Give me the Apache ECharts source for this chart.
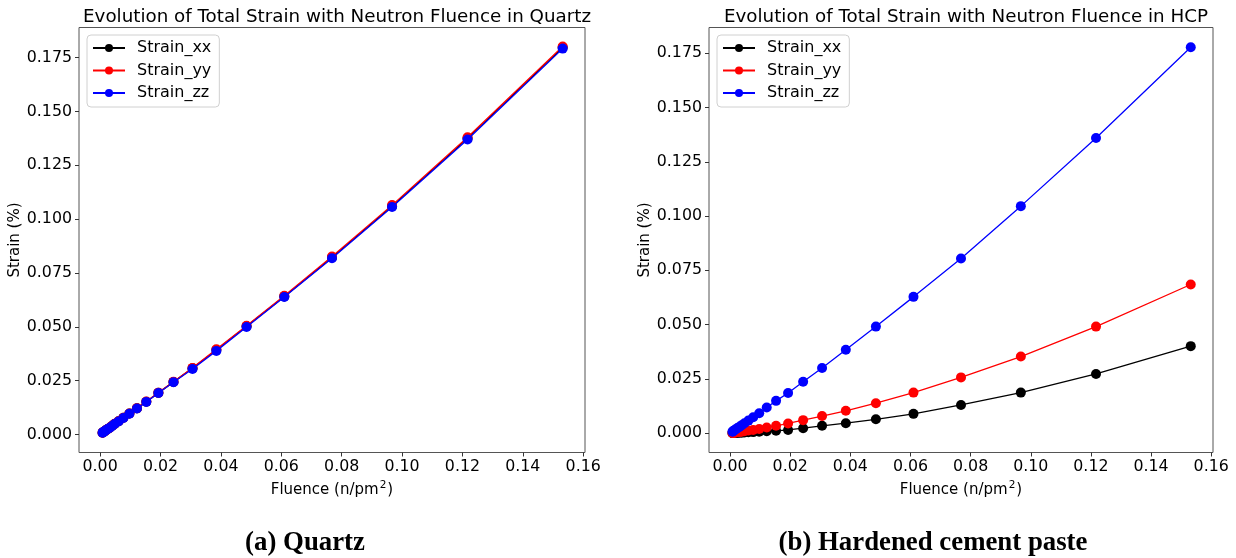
<!DOCTYPE html>
<html>
<head>
<meta charset="utf-8">
<script src="https://cdn.jsdelivr.net/npm/echarts@6/dist/echarts.min.js"></script>
<style>html,body{margin:0;padding:0;background:#fff}#c{width:1236px;height:558px}</style>
</head>
<body>
<div id="c"></div>
<script>
// ---- data ----
const fluence = [0.0008, 0.0010, 0.0012, 0.0015, 0.0019, 0.0024, 0.0031, 0.0039, 0.0048, 0.0061, 0.0077, 0.0097, 0.0122, 0.0153, 0.0193, 0.0243, 0.0306, 0.0385, 0.0485, 0.0610, 0.0768, 0.0967, 0.1217, 0.1532];

const quartzXX = [0.0008,0.0010,0.0012,0.0015,0.0019,0.0024,0.0030,0.0039,0.0048,0.0061,0.0077,0.0097,0.0121,0.0152,0.0193,0.0244,0.0307,0.0392,0.0502,0.0641,0.0822,0.1060,0.1375,0.1797];
const quartzYY = [0.0008,0.0010,0.0012,0.0015,0.0019,0.0024,0.0030,0.0039,0.0049,0.0061,0.0077,0.0097,0.0122,0.0153,0.0194,0.0245,0.0309,0.0395,0.0505,0.0644,0.0826,0.1065,0.1380,0.1802];
const quartzZZ = [0.0008,0.0010,0.0012,0.0015,0.0019,0.0024,0.0030,0.0038,0.0048,0.0060,0.0076,0.0096,0.0120,0.0151,0.0192,0.0242,0.0304,0.0388,0.0499,0.0638,0.0818,0.1056,0.1370,0.1792];

const hcpXX = [0.00004,0.00005,0.00006,0.00008,0.0001,0.00013,0.00017,0.00022,0.0003,0.0004,0.0005,0.0007,0.0009,0.0011,0.0015,0.0023,0.0034,0.0046,0.0064,0.0089,0.0130,0.0187,0.0273,0.0401];
const hcpYY = [0.0001,0.00015,0.0002,0.00025,0.0003,0.0004,0.0005,0.0007,0.0009,0.0012,0.0015,0.0019,0.0026,0.0034,0.0045,0.0060,0.0079,0.0103,0.0138,0.0187,0.0257,0.0353,0.0491,0.0685];
const hcpZZ = [0.0007,0.0009,0.0011,0.0014,0.0018,0.0023,0.0029,0.0037,0.0046,0.0058,0.0073,0.0092,0.0118,0.0149,0.0185,0.0237,0.0300,0.0384,0.0491,0.0628,0.0805,0.1046,0.1360,0.1778];

const xTicks = [0.00, 0.02, 0.04, 0.06, 0.08, 0.10, 0.12, 0.14, 0.16];
const yTicks = [0.000, 0.025, 0.050, 0.075, 0.100, 0.125, 0.150, 0.175];

const seriesNames = ['Strain_xx', 'Strain_yy', 'Strain_zz'];
const seriesColors = ['#000000', '#ff0000', '#0000ff'];
const titles = ['Evolution of Total Strain with Neutron Fluence in Quartz', 'Evolution of Total Strain with Neutron Fluence in HCP'];
const captions = ['(a) Quartz', '(b) Hardened cement paste'];

// ---- chart ----
const FONT = 'DejaVu Sans';
const pairs = ys => fluence.map((f, i) => [f, ys[i]]);
const panels = [[quartzXX, quartzYY, quartzZZ], [hcpXX, hcpYY, hcpZZ]];
const grids = [
  {left: 79, top: 27.5, width: 506, height: 425},
  {left: 709, top: 27.5, width: 504, height: 425}
];
const yRanges = [[-0.0084, 0.189], [-0.0089, 0.1869]];
const captionX = [305, 933];

const chart = echarts.init(document.getElementById('c'), null, {renderer: 'canvas'});

const option = {
  backgroundColor: '#fff',
  animation: false,
  title: grids.map((g, i) => ({
    text: titles[i], left: g.left + g.width / 2, top: 3, textAlign: 'center',
    textStyle: {fontFamily: FONT, fontSize: 18.3, fontWeight: 'normal', color: '#000'}
  })),
  legend: grids.map((g, i) => ({
    data: seriesNames.map(n => ({name: n + (i ? ' ' : '')})),
    orient: 'vertical', left: g.left + 8, top: 35,
    itemWidth: 32, itemHeight: 10, itemGap: 6.5,
    padding: [5, 8, 6, 5],
    borderColor: '#d0d0d0', borderWidth: 1, borderRadius: 4,
    textStyle: {fontFamily: FONT, fontSize: 16, color: '#000', lineHeight: 16, padding: [0, 0, 0, 7]},
    formatter: n => n.trim()
  })),
  grid: grids.map(g => Object.assign({show: true, borderColor: '#555', borderWidth: 1, backgroundColor: 'transparent'}, g)),
  xAxis: grids.map((g, i) => ({
    type: 'value', gridIndex: i, min: -0.0070, max: 0.1606,
    name: '{a|Fluence (n/pm}{s|2}{a|)}', nameLocation: 'middle', nameGap: 14,
    nameTextStyle: {fontFamily: FONT, fontSize: 15, color: '#000', verticalAlign: 'top',
      rich: {a: {fontFamily: FONT, fontSize: 15, color: '#000', lineHeight: 18, verticalAlign: 'bottom'},
             s: {fontFamily: FONT, fontSize: 10.5, color: '#000', lineHeight: 18, verticalAlign: 'top', padding: [0, 1, 0, 1]}}},
    axisLine: {show: false, onZero: false},
    axisTick: {show: true, length: 4, customValues: xTicks, lineStyle: {color: '#333'}},
    axisLabel: {customValues: xTicks, margin: 6, fontFamily: FONT, fontSize: 15.8, color: '#000', formatter: v => v.toFixed(2)},
    splitLine: {show: false}
  })),
  yAxis: grids.map((g, i) => ({
    type: 'value', gridIndex: i, min: yRanges[i][0], max: yRanges[i][1],
    name: 'Strain (%)', nameLocation: 'middle', nameGap: 50,
    nameTextStyle: {fontFamily: FONT, fontSize: 15, color: '#000'},
    axisLine: {show: false, onZero: false},
    axisTick: {show: true, length: 4, customValues: yTicks, lineStyle: {color: '#333'}},
    axisLabel: {customValues: yTicks, margin: 7, fontFamily: FONT, fontSize: 15.8, color: '#000', formatter: v => v.toFixed(3)},
    splitLine: {show: false}
  })),
  series: [],
  graphic: captions.map((c, i) => ({
    type: 'text', x: captionX[i], y: 543,
    style: {text: c, font: 'bold 26.8px "Liberation Serif"', fill: '#000', align: 'center', verticalAlign: 'middle'}
  }))
};

panels.forEach((panel, p) => {
  panel.forEach((ys, k) => {
    option.series.push({
      type: 'line', name: seriesNames[k] + (p ? ' ' : ''),
      xAxisIndex: p, yAxisIndex: p,
      data: pairs(ys),
      symbol: 'circle', symbolSize: 10, showSymbol: true,
      color: seriesColors[k],
      lineStyle: {width: 1.3, color: seriesColors[k]},
      itemStyle: {color: seriesColors[k]},
      z: 2 + k
    });
  });
});

chart.setOption(option);
</script>
</body>
</html>
